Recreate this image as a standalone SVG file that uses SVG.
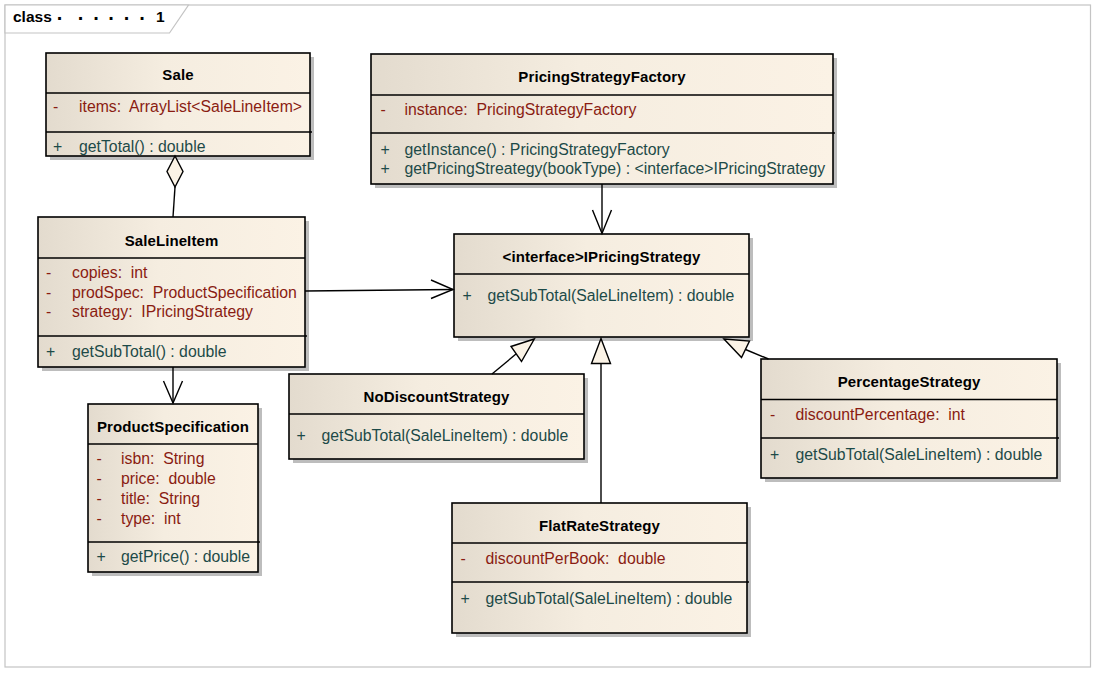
<svg xmlns="http://www.w3.org/2000/svg" width="1098" height="674" viewBox="0 0 1098 674" xml:space="preserve">
<defs>
<linearGradient id="bg" x1="0" y1="0" x2="1" y2="0">
<stop offset="0" stop-color="#e3dbce"/>
<stop offset="0.45" stop-color="#f5ede0"/>
<stop offset="1" stop-color="#fbf2e5"/>
</linearGradient>
</defs>
<style>
.box{fill:url(#bg);stroke:#000;stroke-width:1.6}
.sh{fill:#bdbdbd}
.sep{stroke:#000;stroke-width:1.3}
.t{font-family:"Liberation Sans",Arial,sans-serif;font-size:15px;font-weight:bold;fill:#000;text-anchor:middle;letter-spacing:0.1px}
.a{font-family:"Liberation Sans",Arial,sans-serif;font-size:15.8px;fill:#8a1c12;white-space:pre}
.o{font-family:"Liberation Sans",Arial,sans-serif;font-size:15.8px;fill:#1d4a48;white-space:pre}
.ln{stroke:#000;stroke-width:1.4;fill:none}
.hd{stroke:#000;stroke-width:1.4;fill:#fbf3e6}
.frame{fill:#fff;stroke:#c4c4c4;stroke-width:1.2}
.ft{font-family:"Liberation Sans",Arial,sans-serif;font-size:15.5px;font-weight:bold;fill:#000}
.fd{font-family:"Liberation Sans",Arial,sans-serif;font-size:20px;font-weight:bold;fill:#000;text-anchor:middle}
</style>
<rect width="1098" height="674" fill="#fff"/>
<g id="frame">
<rect class="frame" x="5" y="5" width="1085.5" height="662"/>
<path class="frame" d="M5,5 H188.5 L169.5,33 H5 Z"/>
<text class="ft" x="13" y="22">class</text>
<text class="fd" x="60" y="24.5">·</text>
<text class="fd" x="81" y="24.5">·</text>
<text class="fd" x="96.5" y="24.5">·</text>
<text class="fd" x="111.5" y="24.5">·</text>
<text class="fd" x="127" y="24.5">·</text>
<text class="fd" x="142.5" y="24.5">·</text>
<text class="ft" x="156" y="22">1</text>
</g>

<g id="Sale">
<rect class="sh" x="50" y="57" width="264" height="103"/>
<rect class="box" x="46" y="53" width="264" height="103"/>
<line class="sep" x1="46" y1="93" x2="310" y2="93"/>
<line class="sep" x1="46" y1="132" x2="312" y2="132"/>
<text class="t" x="178" y="80">Sale</text>
<text class="a" x="53" y="112">-</text><text class="a" x="79" y="112">items:  ArrayList&lt;SaleLineItem&gt;</text>
<text class="o" x="53" y="152">+</text><text class="o" x="79" y="152">getTotal() : double</text>
</g>

<g id="SaleLineItem">
<rect class="sh" x="42" y="221" width="267" height="150"/>
<rect class="box" x="38" y="217" width="267" height="150"/>
<line class="sep" x1="38" y1="258" x2="305" y2="258"/>
<line class="sep" x1="38" y1="336" x2="307" y2="336"/>
<text class="t" x="171.5" y="246">SaleLineItem</text>
<text class="a" x="46" y="278">-</text><text class="a" x="72" y="278">copies:  int</text>
<text class="a" x="46" y="297.5">-</text><text class="a" x="72" y="297.5">prodSpec:  ProductSpecification</text>
<text class="a" x="46" y="317">-</text><text class="a" x="72" y="317">strategy:  IPricingStrategy</text>
<text class="o" x="46" y="356.5">+</text><text class="o" x="72" y="356.5">getSubTotal() : double</text>
</g>

<g id="ProductSpecification">
<rect class="sh" x="92" y="408" width="170" height="168"/>
<rect class="box" x="88" y="404" width="170" height="168"/>
<line class="sep" x1="88" y1="444" x2="258" y2="444"/>
<line class="sep" x1="88" y1="542" x2="260" y2="542"/>
<text class="t" x="173" y="432">ProductSpecification</text>
<text class="a" x="96.5" y="464">-</text><text class="a" x="121" y="464">isbn:  String</text>
<text class="a" x="96.5" y="484">-</text><text class="a" x="121" y="484">price:  double</text>
<text class="a" x="96.5" y="503.5">-</text><text class="a" x="121" y="503.5">title:  String</text>
<text class="a" x="96.5" y="523.5">-</text><text class="a" x="121" y="523.5">type:  int</text>
<text class="o" x="96.5" y="562">+</text><text class="o" x="121" y="562">getPrice() : double</text>
</g>

<g id="PricingStrategyFactory">
<rect class="sh" x="375" y="58" width="462" height="130"/>
<rect class="box" x="371" y="54" width="462" height="130"/>
<line class="sep" x1="371" y1="95" x2="833" y2="95"/>
<line class="sep" x1="371" y1="133" x2="835" y2="133"/>
<text class="t" x="602" y="82">PricingStrategyFactory</text>
<text class="a" x="380.5" y="115">-</text><text class="a" x="404.5" y="115">instance:  PricingStrategyFactory</text>
<text class="o" x="380.5" y="154.5">+</text><text class="o" x="404.5" y="154.5">getInstance() : PricingStrategyFactory</text>
<text class="o" x="380.5" y="173.5">+</text><text class="o" x="404.5" y="173.5">getPricingStreategy(bookType) : &lt;interface&gt;IPricingStrategy</text>
</g>

<g id="IPricingStrategy">
<rect class="sh" x="458" y="238" width="295" height="103"/>
<rect class="box" x="454" y="234" width="295" height="103"/>
<line class="sep" x1="454" y1="274" x2="749" y2="274"/>
<text class="t" x="601.5" y="262">&lt;interface&gt;IPricingStrategy</text>
<text class="o" x="462.5" y="301">+</text><text class="o" x="487.5" y="301">getSubTotal(SaleLineItem) : double</text>
</g>

<g id="NoDiscountStrategy">
<rect class="sh" x="293" y="378" width="295" height="85"/>
<rect class="box" x="289" y="374" width="295" height="85"/>
<line class="sep" x1="289" y1="414" x2="584" y2="414"/>
<text class="t" x="436.5" y="402">NoDiscountStrategy</text>
<text class="o" x="296.5" y="441">+</text><text class="o" x="321.5" y="441">getSubTotal(SaleLineItem) : double</text>
</g>

<g id="PercentageStrategy">
<rect class="sh" x="765" y="363" width="296" height="119"/>
<rect class="box" x="761" y="359" width="296" height="119"/>
<line class="sep" x1="761" y1="399.5" x2="1057" y2="399.5"/>
<line class="sep" x1="761" y1="438" x2="1059" y2="438"/>
<text class="t" x="909" y="387">PercentageStrategy</text>
<text class="a" x="770" y="420">-</text><text class="a" x="795.5" y="420">discountPercentage:  int</text>
<text class="o" x="770" y="459.5">+</text><text class="o" x="795.5" y="459.5">getSubTotal(SaleLineItem) : double</text>
</g>

<g id="FlatRateStrategy">
<rect class="sh" x="456" y="507" width="295" height="130"/>
<rect class="box" x="452" y="503" width="295" height="130"/>
<line class="sep" x1="452" y1="543" x2="747" y2="543"/>
<line class="sep" x1="452" y1="582" x2="749" y2="582"/>
<text class="t" x="599.5" y="531">FlatRateStrategy</text>
<text class="a" x="460.5" y="564">-</text><text class="a" x="485.5" y="564">discountPerBook:  double</text>
<text class="o" x="460.5" y="603.5">+</text><text class="o" x="485.5" y="603.5">getSubTotal(SaleLineItem) : double</text>
</g>

<g id="connectors">
<line class="ln" x1="175" y1="187" x2="173" y2="217"/>
<polygon class="hd" points="175,156 183,171.5 175,187 167,171.5"/>
<line class="ln" x1="305" y1="291" x2="453" y2="289.5"/>
<polyline class="ln" points="431,280 453,289.5 431,298.5"/>
<line class="ln" x1="173" y1="367" x2="173" y2="403"/>
<polyline class="ln" points="163.5,381 173,403 182.5,381"/>
<line class="ln" x1="602" y1="184" x2="602" y2="233.5"/>
<polyline class="ln" points="592.5,210 602,233.5 611.5,210"/>
<line class="ln" x1="492" y1="374" x2="516.3" y2="353.8"/>
<polygon class="hd" points="534.3,339 511,346.5 521.5,361.5"/>
<line class="ln" x1="601" y1="503" x2="601" y2="363.5"/>
<polygon class="hd" points="601,338.5 591.5,363.5 610.5,363.5"/>
<line class="ln" x1="768.5" y1="359" x2="745.5" y2="349.5"/>
<polygon class="hd" points="724,339 749.5,341 741.5,357.5"/>
</g>
</svg>
